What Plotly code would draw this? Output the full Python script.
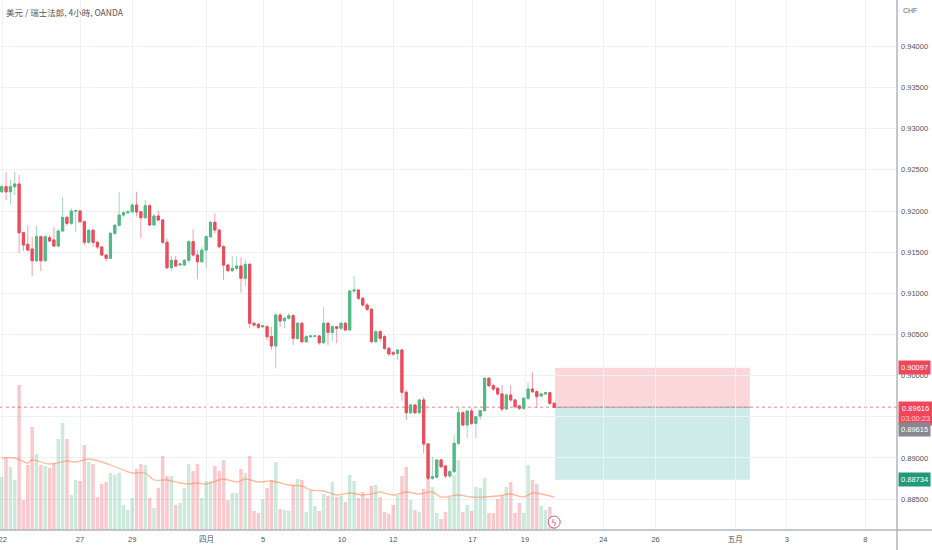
import plotly.graph_objects as go

# USD/CHF 4h candles, bar index 1..128 (22 Mar -> 20 Apr)
opens = [0.92234, 0.92295, 0.92234, 0.92295, 0.92328, 0.91736, 0.91595, 0.91538, 0.91396, 0.91688,
         0.91396, 0.91676, 0.91648, 0.91575, 0.91757, 0.91923, 0.91851, 0.92000, 0.92000, 0.91870,
         0.91620, 0.91766, 0.91620, 0.91563, 0.91465, 0.91425, 0.91729, 0.91826, 0.91951, 0.91979,
         0.91991, 0.92073, 0.91990, 0.91919, 0.92064, 0.91830, 0.91939, 0.91891, 0.91620, 0.91311,
         0.91401, 0.91344, 0.91344, 0.91401, 0.91627, 0.91465, 0.91384, 0.91526, 0.91688, 0.91863,
         0.91769, 0.91566, 0.91344, 0.91275, 0.91304, 0.91332, 0.91182, 0.91352, 0.90636, 0.90623,
         0.90594, 0.90594, 0.90473, 0.90360, 0.90736, 0.90667, 0.90696, 0.90728, 0.90453, 0.90636,
         0.90412, 0.90473, 0.90478, 0.90481, 0.90400, 0.90636, 0.90526, 0.90594, 0.90575, 0.90636,
         0.90554, 0.91028, 0.91040, 0.90939, 0.90858, 0.90806, 0.90412, 0.90533, 0.90473, 0.90332,
         0.90278, 0.90271, 0.90311, 0.89797, 0.89549, 0.89643, 0.89549, 0.89704, 0.89169, 0.88752,
         0.88764, 0.88975, 0.88902, 0.88780, 0.88833, 0.89178, 0.89549, 0.89400, 0.89570, 0.89421,
         0.89509, 0.89574, 0.89967, 0.89877, 0.89846, 0.89777, 0.89594, 0.89764, 0.89704, 0.89631,
         0.89603, 0.89724, 0.89837, 0.89805, 0.89752, 0.89777, 0.89792, 0.89664]
highs = [0.92316, 0.92470, 0.92377, 0.92477, 0.92437, 0.91745, 0.91818, 0.91688, 0.91818, 0.91700,
         0.91708, 0.91708, 0.91802, 0.91781, 0.92166, 0.91939, 0.92033, 0.92012, 0.92012, 0.91880,
         0.91781, 0.91780, 0.91636, 0.91570, 0.91478, 0.91745, 0.91842, 0.92234, 0.92000, 0.92012,
         0.92097, 0.92234, 0.92000, 0.92134, 0.92085, 0.91964, 0.92004, 0.91903, 0.91668, 0.91453,
         0.91453, 0.91368, 0.91417, 0.91648, 0.91778, 0.91526, 0.91566, 0.91708, 0.91879, 0.91972,
         0.91781, 0.91587, 0.91356, 0.91453, 0.91445, 0.91437, 0.91413, 0.91368, 0.90651, 0.90639,
         0.90615, 0.90615, 0.90594, 0.90761, 0.90757, 0.90712, 0.90757, 0.90749, 0.90651, 0.90651,
         0.90493, 0.90493, 0.90493, 0.90493, 0.90830, 0.90650, 0.90615, 0.90603, 0.90651, 0.90651,
         0.91040, 0.91210, 0.91052, 0.90955, 0.90882, 0.90821, 0.90554, 0.90554, 0.90493, 0.90348,
         0.90299, 0.90323, 0.90323, 0.89825, 0.89655, 0.89655, 0.89716, 0.89744, 0.89181, 0.89015,
         0.88987, 0.88987, 0.88914, 0.88853, 0.89278, 0.89603, 0.89570, 0.89582, 0.89603, 0.89509,
         0.89582, 0.89983, 0.89983, 0.89898, 0.89862, 0.89886, 0.89789, 0.89886, 0.89716, 0.89643,
         0.89740, 0.89914, 0.90040, 0.89825, 0.89789, 0.89801, 0.89801, 0.89679]
lows = [0.92219, 0.92134, 0.92081, 0.92194, 0.91486, 0.91514, 0.91514, 0.91210, 0.91380, 0.91271,
        0.91380, 0.91623, 0.91563, 0.91563, 0.91745, 0.91818, 0.91830, 0.91749, 0.91854, 0.91587,
        0.91599, 0.91563, 0.91538, 0.91453, 0.91384, 0.91417, 0.91708, 0.91818, 0.91927, 0.91964,
        0.91976, 0.91933, 0.91668, 0.91903, 0.91818, 0.91818, 0.91879, 0.91599, 0.91295, 0.91271,
        0.91320, 0.91332, 0.91332, 0.91365, 0.91445, 0.91170, 0.91368, 0.91311, 0.91672, 0.91729,
        0.91550, 0.91162, 0.91259, 0.91259, 0.91283, 0.91007, 0.91089, 0.90575, 0.90591, 0.90566,
        0.90578, 0.90427, 0.90311, 0.90089, 0.90594, 0.90575, 0.90676, 0.90372, 0.90433, 0.90396,
        0.90396, 0.90457, 0.90469, 0.90372, 0.90384, 0.90372, 0.90421, 0.90393, 0.90554, 0.90542,
        0.90542, 0.91004, 0.90919, 0.90834, 0.90785, 0.90396, 0.90396, 0.90408, 0.90311, 0.90238,
        0.90238, 0.90190, 0.89695, 0.89461, 0.89534, 0.89534, 0.89534, 0.89056, 0.88732, 0.88732,
        0.88756, 0.88877, 0.88756, 0.88756, 0.88817, 0.89157, 0.89388, 0.89242, 0.89400, 0.89238,
        0.89461, 0.89558, 0.89862, 0.89813, 0.89752, 0.89570, 0.89582, 0.89679, 0.89606, 0.89582,
        0.89582, 0.89704, 0.89789, 0.89603, 0.89740, 0.89764, 0.89643, 0.89606]
closes = [0.92295, 0.92234, 0.92295, 0.92328, 0.91736, 0.91587, 0.91526, 0.91396, 0.91688, 0.91396,
          0.91688, 0.91636, 0.91575, 0.91757, 0.91923, 0.91851, 0.92000, 0.92004, 0.91870, 0.91620,
          0.91766, 0.91620, 0.91563, 0.91465, 0.91425, 0.91729, 0.91826, 0.91951, 0.91979, 0.91991,
          0.92073, 0.91988, 0.91919, 0.92064, 0.91830, 0.91939, 0.91891, 0.91620, 0.91311, 0.91401,
          0.91332, 0.91356, 0.91401, 0.91627, 0.91465, 0.91384, 0.91526, 0.91688, 0.91863, 0.91769,
          0.91566, 0.91344, 0.91275, 0.91304, 0.91332, 0.91182, 0.91352, 0.90636, 0.90615, 0.90587,
          0.90606, 0.90473, 0.90360, 0.90736, 0.90664, 0.90696, 0.90728, 0.90453, 0.90636, 0.90412,
          0.90473, 0.90481, 0.90481, 0.90400, 0.90636, 0.90526, 0.90594, 0.90575, 0.90636, 0.90554,
          0.91028, 0.91040, 0.90939, 0.90858, 0.90806, 0.90412, 0.90533, 0.90453, 0.90332, 0.90263,
          0.90263, 0.90311, 0.89797, 0.89549, 0.89643, 0.89549, 0.89704, 0.89169, 0.88752, 0.88772,
          0.88975, 0.88893, 0.88780, 0.88833, 0.89178, 0.89549, 0.89400, 0.89570, 0.89421, 0.89501,
          0.89574, 0.89967, 0.89877, 0.89837, 0.89777, 0.89594, 0.89764, 0.89704, 0.89622, 0.89603,
          0.89724, 0.89837, 0.89805, 0.89744, 0.89777, 0.89792, 0.89664, 0.89616]
volumes = [53, 73, 63, 50, 145, 30, 65, 103, 76, 65, 64, 62, 67, 91, 107, 91, 35, 50, 49, 85,
           68, 66, 33, 46, 48, 57, 55, 57, 25, 20, 32, 61, 66, 65, 32, 22, 42, 74, 54, 54,
           25, 27, 42, 66, 59, 66, 32, 49, 49, 64, 59, 70, 30, 37, 37, 61, 57, 74, 19, 17,
           31, 42, 50, 68, 21, 20, 19, 45, 51, 50, 18, 39, 24, 19, 36, 34, 48, 33, 34, 28,
           55, 49, 32, 38, 32, 44, 45, 33, 18, 16, 25, 35, 54, 63, 30, 20, 18, 41, 51, 43,
           17, 11, 18, 33, 55, 70, 18, 25, 19, 43, 42, 52, 17, 17, 31, 35, 43, 48, 17, 27,
           17, 65, 50, 46, 24, 20, 23, 10]

# volume moving average, read at a few bars
ma_x = [1, 4, 7, 8, 12, 16, 18, 21, 24, 26, 29, 31, 34, 36, 39, 42, 44, 46, 48, 52, 55, 57, 60, 63,
        67, 70, 72, 75, 78, 81, 84, 87, 88, 91, 94, 97, 100, 102, 106, 109, 112, 115, 118, 121,
        123, 125, 128]
ma_v = [72, 72, 67, 70, 66, 69, 68, 71, 68, 65, 60, 57, 57, 50, 50, 47, 46, 47, 46, 51, 48, 51, 48, 49,
        45, 44, 40, 39, 35, 37, 35, 37, 38, 35, 38, 36, 38, 33, 35, 33, 33, 34, 36, 33,
        37, 36, 33]

# date ticks (bar positions) and labels
tick_pos = [1.23, 19.0, 31.0, 48.1, 61.1, 79.2, 91.0, 109.2, 121.3, 139.3, 151.3, 169.6, 181.5, 199.5]
tick_text = ["22", "27", "29", "四月", "5", "10", "12", "17", "19", "24", "26", "五月", "3", "8"]

price_ticks = [0.885, 0.890, 0.895, 0.900, 0.905, 0.910, 0.915, 0.920, 0.925, 0.930, 0.935, 0.940]
# 0.895 label sits under the price tags in the original, so it stays blank
price_labels = ["0.88500", "0.89000", "", "0.90000", "0.90500", "0.91000", "0.91500",
                "0.92000", "0.92500", "0.93000", "0.93500", "0.94000"]

# short position tool
entry = 0.89616
stop = 0.90097
target = 0.88734
bid = 0.89615
countdown = "03:00:23"

UP = "#53b987"
DOWN = "#eb4d5c"
GRID = "#eef1f6"
FONT = "Liberation Sans, Noto Sans CJK TC, sans-serif"

bars = list(range(1, len(opens) + 1))
vol_colors = ["rgba(83,185,135,0.30)" if c >= o else "rgba(235,77,92,0.30)"
              for o, c in zip(opens, closes)]
body_hi = [max(o, c) for o, c in zip(opens, closes)]
body_lo = [min(o, c) for o, c in zip(opens, closes)]

fig = go.Figure()

fig.add_trace(go.Bar(x=bars, y=volumes, marker_color=vol_colors, marker_line_width=0,
                     width=0.8, yaxis="y", hoverinfo="skip", showlegend=False))
fig.add_trace(go.Scatter(x=ma_x, y=ma_v, mode="lines", line=dict(color="rgba(255,140,90,0.6)", width=1.3),
                         line_shape="spline", yaxis="y", hoverinfo="skip", showlegend=False))

# wicks (lighter) then bodies on top
fig.add_trace(go.Candlestick(
    x=bars, open=opens, high=highs, low=lows, close=closes, yaxis="y2",
    increasing=dict(line=dict(color="rgba(83,185,135,0.55)", width=1), fillcolor=UP),
    decreasing=dict(line=dict(color="rgba(235,77,92,0.55)", width=1), fillcolor=DOWN),
    hoverinfo="skip", showlegend=False))
fig.add_trace(go.Candlestick(
    x=bars, open=opens, high=body_hi, low=body_lo, close=closes, yaxis="y2",
    increasing=dict(line=dict(color=UP, width=1), fillcolor=UP),
    decreasing=dict(line=dict(color=DOWN, width=1), fillcolor=DOWN),
    hoverinfo="skip", showlegend=False))

box_x0 = 128.2
box_x1 = 173.0

shapes = [
    dict(type="rect", xref="x", yref="y2", x0=box_x0, x1=box_x1, y0=entry, y1=stop,
         fillcolor="rgba(242,54,69,0.2)", line_width=0, layer="below"),
    dict(type="rect", xref="x", yref="y2", x0=box_x0, x1=box_x1, y0=target, y1=entry,
         fillcolor="rgba(0,150,136,0.19)", line_width=0, layer="below"),
    dict(type="line", xref="x", yref="y2", x0=box_x0, x1=box_x1, y0=entry, y1=entry,
         line=dict(color="#a3a6af", width=1), layer="below"),
    dict(type="line", xref="paper", yref="y2", x0=0, x1=1, y0=entry, y1=entry,
         line=dict(color="rgba(235,77,92,0.7)", width=1, dash="dot"), layer="below"),
    # frame lines
    dict(type="line", xref="paper", yref="paper", x0=0, x1=1.04, y0=0, y1=0,
         line=dict(color="#b2b5be", width=1.5)),
    dict(type="line", xref="paper", yref="paper", x0=1, x1=1, y0=-0.04, y1=1,
         line=dict(color="#b2b5be", width=1.5)),
    # lightning marker circle
    dict(type="circle", xref="x", yref="paper", xsizemode="pixel", ysizemode="pixel",
         xanchor=128, yanchor=0.015, x0=-6, x1=6, y0=-6, y1=6,
         line=dict(color="#d9547e", width=1), fillcolor="white"),
]

tag = dict(xref="paper", yref="y2", x=1, xanchor="left", xshift=1, showarrow=False,
           font=dict(family=FONT, size=7.5, color="white"), borderpad=2)
annotations = [
    dict(text="美元 / 瑞士法郎, 4小時, OANDA", xref="paper", yref="paper", x=0.0045, y=0.977,
         xanchor="left", yanchor="middle", showarrow=False,
         font=dict(family="Noto Sans CJK TC, sans-serif", size=8.5, color="#555555")),
    dict(text="CHF", xref="paper", yref="paper", x=1.0145, y=0.981, xanchor="center",
         yanchor="middle", showarrow=False, font=dict(family=FONT, size=7, color="#666666")),
    dict(tag, text="%.5f" % stop, y=stop, yanchor="middle", bgcolor="#f0465a"),
    dict(tag, text="%.5f<br><span style='color:#fcd0d5'>%s</span>" % (entry, countdown),
         y=entry, yanchor="top", yshift=6, bgcolor="#f0465a"),
    dict(tag, text="%.5f" % bid, y=entry, yanchor="top", yshift=-14.5, bgcolor="#868993"),
    dict(tag, text="%.5f" % target, y=target, yanchor="middle", bgcolor="#22997a"),
    dict(text="ϟ", xref="x", yref="paper", x=128, y=0.015, yshift=-1, showarrow=False,
         xanchor="center", yanchor="middle",
         font=dict(family="DejaVu Sans", size=9, color="#d9547e")),
]

fig.update_layout(
    width=932, height=550,
    margin=dict(l=0, r=35, t=0, b=20),
    paper_bgcolor="white", plot_bgcolor="white",
    showlegend=False, hovermode=False,
    font=dict(family=FONT, size=7.5, color="#50535e"),
    xaxis=dict(range=[0.61, 206.8], tickvals=tick_pos, ticktext=tick_text,
               showgrid=True, gridcolor=GRID, zeroline=False, showline=False, ticks="",
               ticklabelstandoff=3, ticklabeloverflow="allow",
               rangeslider=dict(visible=False), fixedrange=True,
               tickfont=dict(family=FONT, size=7.5, color="#50535e")),
    yaxis=dict(range=[0, 530], visible=False, fixedrange=True),
    yaxis2=dict(range=[0.88124, 0.94564], overlaying="y", side="right",
                tickvals=price_ticks, ticktext=price_labels,
                showgrid=True, gridcolor=GRID, zeroline=False, showline=False, ticks="",
                ticklabelstandoff=3, fixedrange=True,
                tickfont=dict(family=FONT, size=7.5, color="#50535e")),
    shapes=shapes,
    annotations=annotations,
)

# page body margin would push the 932px figure off the window
fig.write_html("out.html", config={"displayModeBar": False},
               post_script="document.body.style.margin='0';")
